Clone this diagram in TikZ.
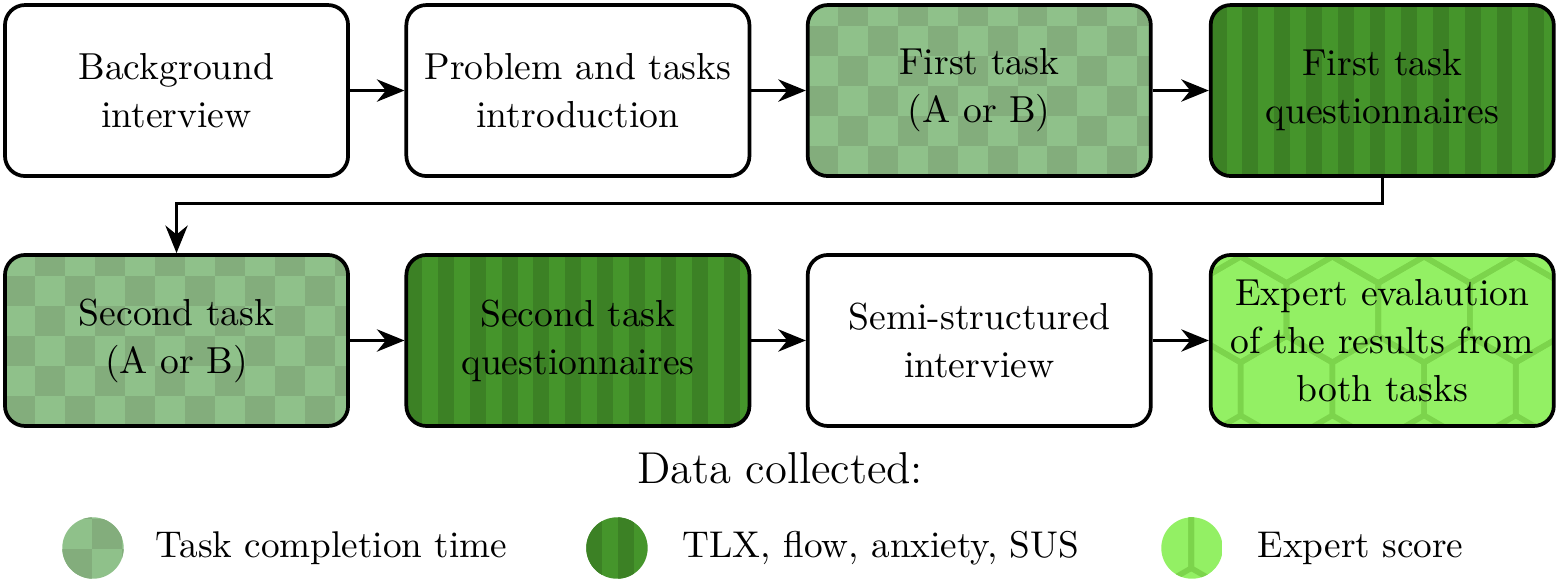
\documentclass[tikz,border=0pt]{standalone}
\usepackage{tikz}
\usetikzlibrary{positioning}
\usetikzlibrary{arrows.meta}
\usetikzlibrary{calc}

\definecolor{tasklight}{RGB}{143,193,138}
\definecolor{taskdark}{RGB}{131,173,124}
\definecolor{questlight}{RGB}{69,149,43}
\definecolor{questdark}{RGB}{60,129,37}
\definecolor{expertlight}{RGB}{147,240,100}
\definecolor{expertdark}{RGB}{124,212,76}

\tikzset{
    stage/.style={draw, line width=1pt, rounded corners=0.19cm, minimum width=3.24cm,
        minimum height=1.615cm, align=center, inner sep=2pt, font=\fontsize{10.1}{12.9}\selectfont},
    flow/.style={-{Stealth[length=2.6mm,width=2.1mm]}, line width=0.9pt},
    taskfill/.style={path picture={
        \fill[tasklight, sharp corners] (path picture bounding box.south west) rectangle (path picture bounding box.north east);
        \foreach \i in {0,...,12}
            \foreach \j in {0,...,6}{
                \pgfmathtruncatemacro{\chk}{mod(\i+\j,2)}
                \ifnum\chk=0
                    \fill[taskdark, sharp corners] ($(path picture bounding box.south west)+(\i*0.283,\j*0.283)$) rectangle ++(0.283,0.283);
                \fi
            }
    }},
    questfill/.style={path picture={
        \fill[questlight, sharp corners] (path picture bounding box.south west) rectangle (path picture bounding box.north east);
        \foreach \i in {0,2,...,24}
            \fill[questdark, sharp corners] ($(path picture bounding box.south west)+(\i*0.15,0)$) rectangle ++(0.15,2);
    }},
    expertfill/.style={path picture={
        \fill[expertlight, sharp corners] (path picture bounding box.south west) rectangle (path picture bounding box.north east);
        \foreach \i in {0,...,5}
            \foreach \j in {0,...,2}{
                \pgfmathsetmacro{\hx}{\i*0.866+mod(\j,2)*0.433-0.15}
                \draw[expertdark, line width=1.5pt, sharp corners] ($(path picture bounding box.south west)+(\hx,\j*0.75+0.35)$)
                    +(90:0.5) -- +(30:0.5) -- +(-30:0.5) -- +(-90:0.5) -- +(-150:0.5) -- +(150:0.5) -- cycle
                    +(90:0.36) -- +(30:0.36) -- +(-30:0.36) -- +(-90:0.36) -- +(-150:0.36) -- +(150:0.36) -- cycle;
            }
    }},
}

\begin{document}
\begin{tikzpicture}
    \useasboundingbox (0,0) rectangle (14.75,-5.515);

    \node[stage] (bi) at (1.667,-0.855) {Background\\interview};
    \node[stage, right=0.515cm of bi] (pt) {Problem and tasks\\introduction};
    \node[stage, taskfill, right=0.515cm of pt] (ft) {First task\\(A or B)};
    \node[stage, questfill, right=0.53cm of ft] (fq) {First task\\questionnaires};

    \node[stage, taskfill, below=0.71cm of bi] (st) {Second task\\(A or B)};
    \node[stage, questfill, right=0.515cm of st] (sq) {Second task\\questionnaires};
    \node[stage, right=0.515cm of sq] (si) {Semi-structured\\interview};
    \node[stage, expertfill, right=0.53cm of si] (ee) {Expert evalaution\\of the results from\\both tasks};

    \draw[flow] (bi) -- (pt);
    \draw[flow] (pt) -- (ft);
    \draw[flow] (ft) -- (fq);
    \draw[flow] (fq.south) -- ++(0,-0.24) -| (st.north);
    \draw[flow] (st) -- (sq);
    \draw[flow] (sq) -- (si);
    \draw[flow] (si) -- (ee);

    \node[font=\large] (dc) at (7.366,-4.42) {Data collected:};

    \node[circle, minimum size=0.58cm, taskfill] (lt) at (0.878,-5.175) {};
    \node[right=0.17cm of lt] (ltt) {Task completion time};
    \node[circle, minimum size=0.58cm, questfill] (lq) at (5.826,-5.175) {};
    \node[right=0.2cm of lq] (lqt) {TLX, flow, anxiety, SUS};
    \node[circle, minimum size=0.58cm, expertfill] (le) at (11.256,-5.175) {};
    \node[right=0.2cm of le] (let) {Expert score};
\end{tikzpicture}
\end{document}
